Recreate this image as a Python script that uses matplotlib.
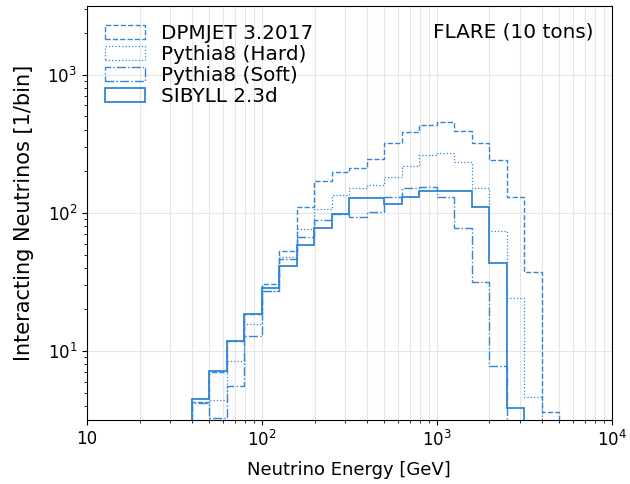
import numpy as np
import matplotlib
matplotlib.use("Agg")
import matplotlib.pyplot as plt
from matplotlib.ticker import FuncFormatter

# log bins, 10 per decade, 10^1.6 .. 10^3.7 GeV
edges = np.logspace(1.6, 3.7, 22)

dpmjet = [4.3, 7.0, 11.9, 18.7, 30.6, 53, 111, 171, 199, 210, 246,
          323, 385, 434, 454, 395, 320, 242, 131, 37.6, 3.6]
pythiaHard = [3.0, 4.4, 8.5, 15.6, 27, 48.2, 76.5, 106, 135, 151, 160,
              181, 220, 263, 273, 233, 151, 74.5, 24.3, 4.65, 2.0]
pythiaSoft = [4.2, 3.3, 5.6, 12.9, 27, 46.4, 67.4, 89, 99, 93, 102,
              131, 151, 155, 131, 77.5, 31.8, 7.85, 2.0, 1.0, 0.5]
sibyll = [4.5, 7.2, 11.9, 18.7, 28.5, 41.3, 58.6, 77.5, 98.4, 128, 128,
          117, 131, 145, 145, 145, 110, 43.7, 3.9, 2.0, 1.0]

labels = ["DPMJET 3.2017", "Pythia8 (Hard)", "Pythia8 (Soft)", "SIBYLL 2.3d"]
styles = ["--", ":", "-.", "-"]
widths = [1.0, 0.9, 1.0, 1.3]
color = "#2f86d6"

fig = plt.figure(figsize=(6.3, 4.84), dpi=100)
ax = fig.add_axes([0.138, 0.132, 0.833, 0.856])

centers = np.sqrt(edges[:-1] * edges[1:])
for vals, lab, ls, lw in zip([dpmjet, pythiaHard, pythiaSoft, sibyll], labels, styles, widths):
    ax.hist(centers, bins=edges, weights=vals, histtype="step", color=color,
            linestyle=ls, linewidth=lw, label=lab)

ax.set_xscale("log")
ax.set_yscale("log")
ax.set_xlim(10, 1e4)
ax.set_ylim(10**0.5, 10**3.5)

def logLabel(v, pos):
    e = int(round(np.log10(v)))
    return "10" if e == 1 else r"$10^{%d}$" % e

ax.xaxis.set_major_formatter(FuncFormatter(logLabel))
ax.tick_params(labelsize=12)
ax.grid(which="major", color="#e6e6e6", linewidth=0.8)
ax.grid(which="minor", axis="x", color="#e6e6e6", linewidth=0.8)
ax.set_axisbelow(True)

ax.set_xlabel("Neutrino Energy [GeV]", fontsize=13, labelpad=8)
ax.set_ylabel("Interacting Neutrinos [1/bin]", fontsize=15, labelpad=10)
ax.text(0.965, 0.96, "FLARE (10 tons)", transform=ax.transAxes, ha="right", va="top", fontsize=14.4)
ax.legend(loc="upper left", frameon=False, fontsize=14.4, labelspacing=0.1)

fig.savefig("out.png", dpi=100)
